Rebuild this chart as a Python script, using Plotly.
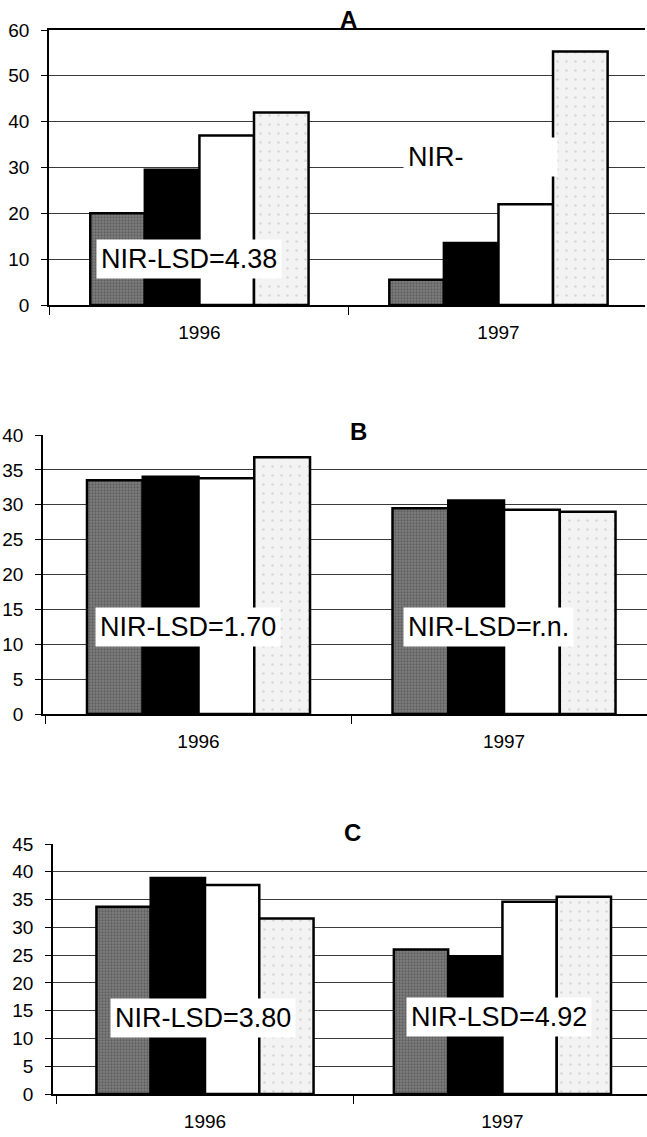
import plotly.graph_objects as go

years = ["1996", "1997"]

a_s1 = [20.0, 5.5]
a_s2 = [29.5, 13.5]
a_s3 = [37.0, 22.0]
a_s4 = [42.0, 55.3]

b_s1 = [33.5, 29.5]
b_s2 = [34.0, 30.6]
b_s3 = [33.8, 29.3]
b_s4 = [36.8, 29.0]

c_s1 = [33.7, 26.0]
c_s2 = [38.9, 24.8]
c_s3 = [37.6, 34.6]
c_s4 = [31.6, 35.5]

panel_titles = ["A", "B", "C"]
lsd_texts = ["NIR-LSD=4.38", "NIR-", "NIR-LSD=1.70", "NIR-LSD=r.n.", "NIR-LSD=3.80", "NIR-LSD=4.92"]
lsd_x = [-0.035, 0.681, -0.036, 0.948, -0.008, 0.987]
lsd_y = [10.0, 32.3, 12.5, 12.5, 13.7, 13.9]
lsd_axis = ["", "", "2", "2", "3", "3"]

FONT = "Liberation Sans, Arial, sans-serif"

styles = [
    dict(color="#808080", pattern=dict(shape=".", fgcolor="#3c3c3c", size=3, solidity=0.45, fillmode="overlay")),
    dict(color="#000000"),
    dict(color="#ffffff"),
    dict(color="#f3f3f3", pattern=dict(shape=".", fgcolor="#b8b8b8", size=9, solidity=0.06, fillmode="overlay")),
]

panels = [
    ("", [a_s1, a_s2, a_s3, a_s4]),
    ("2", [b_s1, b_s2, b_s3, b_s4]),
    ("3", [c_s1, c_s2, c_s3, c_s4]),
]

fig = go.Figure()
for suffix, series in panels:
    for st, vals in zip(styles, series):
        m = dict(st)
        m["line"] = dict(color="black", width=2.5)
        fig.add_trace(go.Bar(x=years, y=vals, marker=m, showlegend=False,
                             xaxis="x" + suffix, yaxis="y" + suffix))

W = 647.0
H = 1137.0

def px(x):
    return min(1.0, x / W)

def py(y):
    return 1 - y / H

def xax(domain, rng, mirror, anchor):
    return dict(domain=domain, range=rng, type="category", showgrid=False,
                showline=True, linecolor="black", linewidth=1.5, mirror=mirror,
                ticks="outside", tickson="boundaries", ticklen=8, tickcolor="black",
                tickfont=dict(family=FONT, size=19, color="black"),
                ticklabelstandoff=9, anchor=anchor, automargin=False, fixedrange=True)

def yax(domain, rng, dtick, anchor):
    return dict(domain=domain, range=rng, dtick=dtick, showgrid=True,
                gridcolor="#3a3a3a", gridwidth=1, zeroline=False,
                showline=True, linecolor="black", linewidth=1.5,
                ticks="outside", ticklen=6, tickcolor="black",
                tickfont=dict(family=FONT, size=19, color="black"),
                ticklabelstandoff=8, anchor=anchor, automargin=False, fixedrange=True)

fig.update_layout(
    width=int(W), height=int(H),
    margin=dict(l=0, r=0, t=0, b=0, pad=0, autoexpand=False),
    paper_bgcolor="white", plot_bgcolor="white",
    barmode="group", bargap=0.27, bargroupgap=0,
    hovermode=False,
    xaxis=xax([px(49), px(645)], [-0.503, 1.49], True, "y"),
    yaxis=yax([py(305), py(30)], [0, 60], 10, "x"),
    xaxis2=xax([px(43), 1.0], [-0.509, 1.468], False, "y2"),
    yaxis2=yax([py(714), py(435)], [0, 40], 5, "x2"),
    xaxis3=xax([px(53), 1.0], [-0.511, 1.486], False, "y3"),
    yaxis3=yax([py(1094), py(844)], [0, 45], 5, "x3"),
)

ann = []
title_pos = [(348, 19), (358, 431), (352, 832)]
for t, (tx, ty) in zip(panel_titles, title_pos):
    ann.append(dict(text="<b>" + t + "</b>", xref="paper", yref="paper",
                    x=px(tx), y=py(ty), showarrow=False,
                    xanchor="center", yanchor="middle",
                    font=dict(family=FONT, size=24, color="black")))

for i, (txt, xx, yy, ax) in enumerate(zip(lsd_texts, lsd_x, lsd_y, lsd_axis)):
    d = dict(text=txt, xref="x" + ax, yref="y" + ax, x=xx, y=yy,
             showarrow=False, bgcolor="white", borderpad=4,
             font=dict(family=FONT, size=27, color="black"),
             yanchor="middle")
    if txt == "NIR-":
        d.update(xanchor="left", width=145, align="left")
    else:
        d.update(xanchor="center")
    ann.append(d)

fig.update_layout(annotations=ann)
fig.write_html("out.html",
               config={"displayModeBar": False},
               post_script="document.body.style.margin='0';document.body.style.overflow='hidden';")
